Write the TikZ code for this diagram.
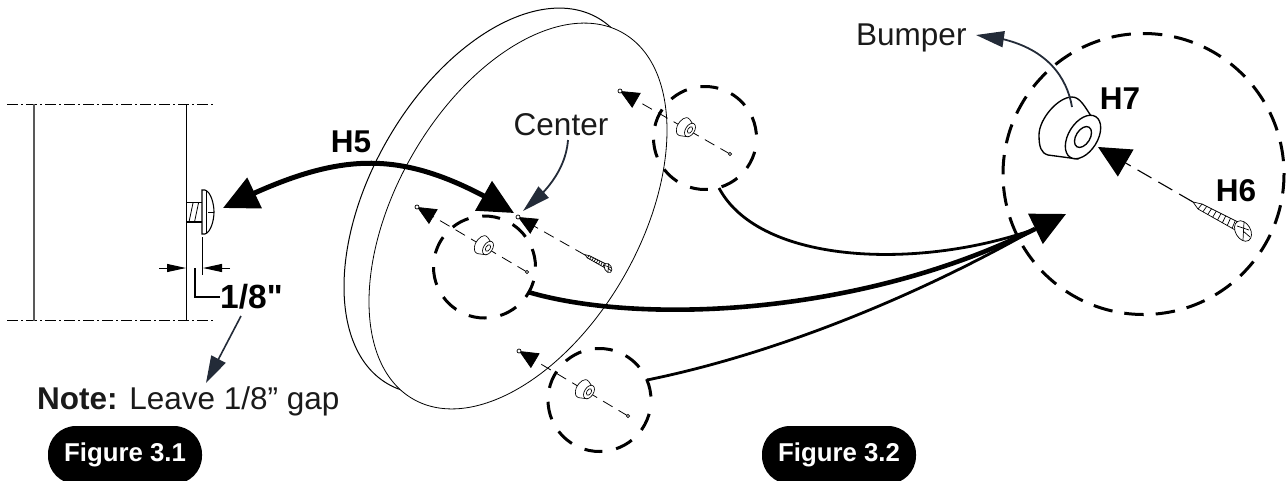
\documentclass[tikz,border=0pt]{standalone}
\usepackage{fontspec}
\setmainfont{Liberation Sans}
\newfontfamily\rawsans{Liberation Sans}
\usetikzlibrary{arrows.meta,bending}
\definecolor{navy}{HTML}{232B38}
\definecolor{ink}{HTML}{1A1A1A}
\tikzset{
 x=1pt,y=-1pt,
 ring/.style={line width=3pt,dash pattern=on 18pt off 14pt,dash phase=18pt},
 bigring/.style={line width=3pt,dash pattern=on 19.5pt off 12pt},
 guide/.style={line width=0.8pt,dash pattern=on 11pt off 7pt},
 wire/.style={line width=2.8pt},
 wallcut/.style={line width=1pt,dash pattern=on 11pt off 3pt on 2pt off 3pt},
 lbl/.style={font=\fontsize{31.5}{33}\selectfont,inner sep=0pt,text=ink},
 blbl/.style={font=\fontsize{31.5}{33}\selectfont\bfseries,inner sep=0pt},
 fig/.style={fill=black,text=white,rounded corners=28pt,font=\fontsize{25.8}{28}\selectfont\bfseries,minimum width=154pt,minimum height=58pt,inner sep=0pt},
 smalltip/.style={-{Triangle[length=19pt,width=17pt]}},
 twotips/.style={{Triangle[length=35pt,width=33pt]}-{Triangle[length=35pt,width=33pt]}},
}
\newcommand{\bump}[3]{%
 \begin{scope}[shift={(#1,#2)},scale=#3,line width=#3*1pt+0.35pt]
 \draw[fill=white] (8,-21) .. controls (2,-30) and (-3,-40) .. (-11,-40) .. controls (-25,-40) and (-44,-18) .. (-44,-2) .. controls (-44,10) and (-42,16) .. (-35,18) -- (-5,22) -- cycle;
 \draw[fill=white,rotate=-32] (0,0) ellipse (14.5 and 24);
 \draw[rotate=-32] (0,0) ellipse (7 and 11.5);
 \end{scope}}
\newcommand{\screw}[3]{%
 \begin{scope}[shift={(#1,#2)},scale=#3,line width=0.7pt]
 \draw[fill=white] (-50,-29) -- (-41,-27) -- (-3,-8) -- (-6,0) -- (-45,-22) -- cycle;
 \foreach \t in {0,0.125,...,1.0}{\draw (-41+38*\t,-27+19*\t) -- (-45+39*\t,-22+22*\t);}
 \draw[fill=white,rotate=30] (0,0) ellipse (7.5 and 11);
 \draw (-6,-5) -- (6,-1) (1,-9) -- (0,9) (0,0) -- (7,6);
 \end{scope}}
\begin{document}
\begin{tikzpicture}
\useasboundingbox (0,0) rectangle (1288,480);
% disc
\draw[line width=1pt] (493,201) ellipse [x radius=122,y radius=211,rotate=-29.8];
\draw[line width=0.8pt,fill=white] (518,216) ellipse [x radius=122,y radius=211,rotate=-29.8];
% wall
\draw[wallcut] (7,104) -- (214,104);
\draw[wallcut] (7,320.5) -- (214,320.5);
\draw[line width=1.1pt,gray!70!black] (34,104) -- (34,320.5);
\draw[line width=1.1pt] (186.5,104) -- (186.5,320.5);
% bolt
\draw[line width=1.2pt] (186.5,202.7) -- (202,202.7) (186.5,222) -- (202,222);
\draw[line width=0.8pt] (189,222) -- (193,203) (194.5,222) -- (198.5,203);
\draw[line width=1.1pt,fill=white] (202,190) -- (205,190) .. controls (211,192) and (214,204) .. (214,212) .. controls (214,220) and (211,232) .. (205,234) -- (202,234) -- cycle;
\draw[line width=1pt] (206,191) -- (206,233);
\draw[line width=1pt] (208,212) -- (214,212);
% dim
\draw[line width=0.9pt] (186.5,237) -- (186.5,275) (202.5,237) -- (202.5,275);
\coordinate (dl) at (159,268); \coordinate (dr) at (230,268);
\draw[line width=1pt,-{Triangle[length=19pt,width=8pt]}] (dl) -- (186,268);
\draw[line width=1pt,-{Triangle[length=19pt,width=8pt]}] (dr) -- (203,268);
\node[blbl,font=\fontsize{33.5}{35}\selectfont\rawsans\bfseries,anchor=west] (dim) at (220,297) {1/8"};
\coordinate (dimstart) at (195,268);
\draw[line width=1.1pt] (dimstart) -- (195,297) -- (dim.west);
% note
\node[lbl,anchor=base west] (note) at (37,409) {\textbf{Note:} Leave 1/8” gap};
\coordinate (noteS) at (241,316);
\draw[line width=1.6pt,navy,-{Triangle[length=27pt,width=16pt]}] (noteS) -- (206,383);
% figures
\node[fig] (f1) at (125,455) {Figure 3.1};
\node[fig] (f2) at (839,455) {Figure 3.2};
% rings
\draw[ring] (484.5,267) circle (51);
\draw[ring] (705,138) circle (51.5);
\draw[ring] (599.5,400) circle (51.5);
\draw[bigring] (1143.5,174) circle (140.5);
% guides with arrows
\foreach \ax/\ay/\bx/\by in {417/207/527/272, 620/91/730/154, 519/351/628/416}{
 \coordinate (ga) at (\ax,\ay); \coordinate (gb) at (\bx,\by);
 \draw[guide,smalltip] (gb) -- (ga);
 \draw[line width=0.7pt,fill=white] (gb) circle (1.6);
 \draw[line width=0.7pt,fill=white] (ga) circle (2);
}
\bump{488}{248}{0.31}
\bump{690}{130}{0.31}
\bump{589}{392}{0.31}
% center guide and screw
\coordinate (cen) at (518,217);
\draw[guide,smalltip] (585,255) -- (cen);
\draw[line width=0.7pt,fill=white] (cen) circle (2);
\screw{608}{268}{0.46}
% big bumper
\bump{1083}{137}{1}
% big screw
\coordinate (hd) at (1193,202);
\draw[line width=1.1pt,dash pattern=on 16pt off 8pt,-{Triangle[length=32pt,width=31pt]}] (hd) -- (1098,147);
\screw{1243}{231}{1}
% labels
\node[blbl] (h7) at (1120,98.5) {H7};
\node[blbl] (h6) at (1236,190.5) {H6};
\node[blbl] (h5) at (351,142) {H5};
\node[lbl] (center) at (561,125) {Center};
\node[lbl,anchor=base west] (bumper) at (856,45) {Bumper};
% bumper arrow
\coordinate (bs) at (1072,107);
\draw[line width=1.8pt,navy,-{Triangle[length=28pt,width=16pt]}] (bs) .. controls (1066,72) and (1040,40) .. (976,35);
% center arrow
\coordinate (cs) at (568,140);
\draw[line width=1.8pt,navy,-{Triangle[length=28pt,width=15pt]}] (cs) .. controls (566,165) and (552,188) .. (523,211);
% H5
\coordinate (h5a) at (223,208);
\coordinate (h5b) at (514,213);
\draw[line width=5pt,twotips] (h5a) .. controls (343,148) and (404,147) .. (h5b);
% wires
\coordinate (tip) at (1066,214);
\coordinate (jn) at (1035,229);
\draw[wire] (719,188) .. controls (760,265) and (920,270) .. (jn);
\draw[line width=4.6pt] (528,292) .. controls (640,325) and (860,316) .. (jn);
\draw[wire] (647,380) .. controls (770,355) and (910,300) .. (jn);
\draw[line width=3pt,-{Triangle[length=34pt,width=33pt]}] (1030,231.5) -- (tip);
\end{tikzpicture}
\end{document}
